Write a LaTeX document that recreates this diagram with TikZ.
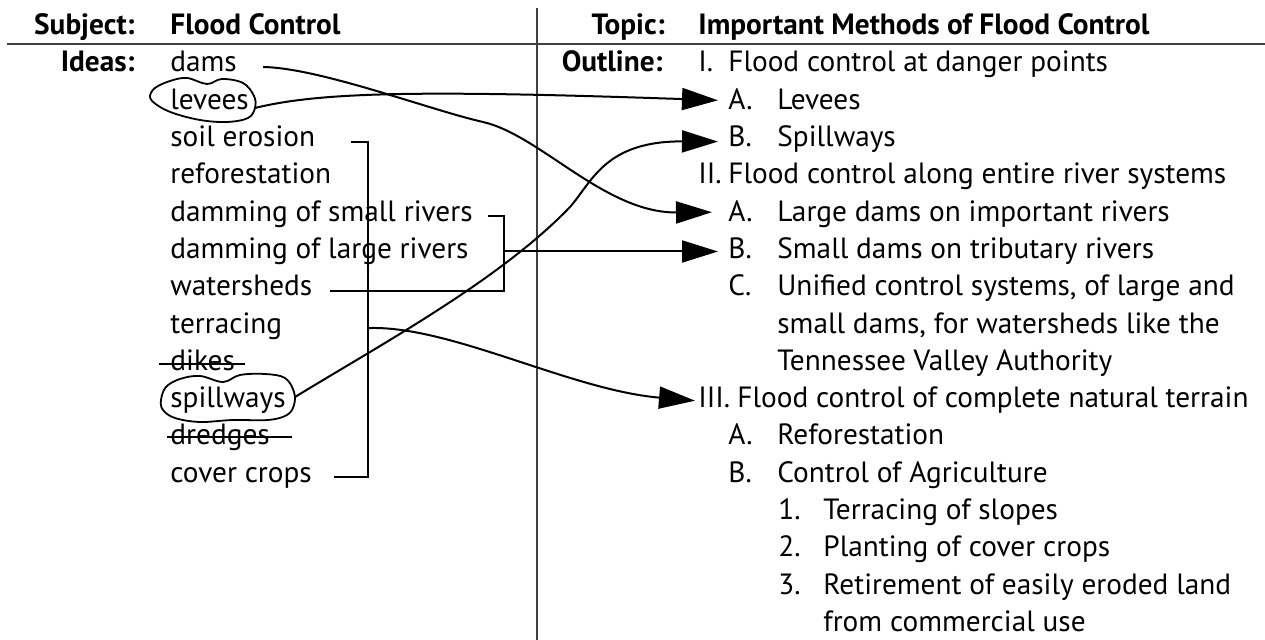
\documentclass[tikz,border=0pt]{standalone}
\usepackage{fontspec}
\setmainfont{PT Sans}[Scale=1.465]
\usetikzlibrary{arrows.meta}

\tikzset{
	idea/.style={anchor=base west, inner sep=0pt, text height=7pt, text depth=2pt},
	point/.style={anchor=base west, inner sep=0pt, text height=9pt, text depth=2pt},
	head/.style={anchor=base east, inner sep=0pt, font=\bfseries},
	link/.style={line width=1pt},
	goto/.style={link, -{Triangle[length=18pt,width=11pt]}},
	ring/.style={line width=0.9pt},
	rule/.style={line width=0.7pt, black!75},
}

\begin{document}
\begin{tikzpicture}[x=0.5pt,y=-0.5pt]
	\useasboundingbox (0,0) rectangle (1265,640);
	\newcommand{\rowh}{37.3}

	% headings
	\node[head] (subj) at (135,35) {Subject:};
	\node[idea,font=\bfseries] (subjtxt) at (170,35) {Flood Control};
	\node[head] (ideas) at (135,72) {Ideas:};
	\node[head] (topic) at (665,35) {Topic:};
	\node[idea,font=\bfseries] (topictxt) at (698,35) {Important Methods of Flood Control};
	\node[head] (outline) at (663,72) {Outline:};

	\draw[rule] (7,44) -- (1265,44);
	\draw[rule, line width=0.6pt] (537,8) -- (537,640);

	% ideas
	\foreach \name/\txt [count=\i from 0] in {dams/dams, levees/levees,
		soil/soil erosion, refor/reforestation, smallr/damming of small rivers,
		larger/damming of large rivers, wshed/watersheds, terr/terracing,
		dikes/dikes, spill/spillways, dredges/dredges, cover/cover crops}
	\node[idea] (\name) at (170,{72+\i*\rowh}) {\txt};

	% outline
	\foreach \name/\x/\txt [count=\i from 0] in {
		one/698/{\makebox[15pt][l]{I.}Flood control at danger points},
		aLev/728/{\makebox[24.5pt][l]{A.}Levees},
		bSpill/728/{\makebox[24.5pt][l]{B.}Spillways},
		two/698/{\makebox[15pt][l]{II.}Flood control along entire river systems},
		aLarge/728/{\makebox[24.5pt][l]{A.}Large dams on important rivers},
		bSmall/728/{\makebox[24.5pt][l]{B.}Small dams on tributary rivers},
		cUni/728/{\makebox[24.5pt][l]{C.}Unified control systems, of large and},
		cUniB/777/{small dams, for watersheds like the},
		cUniC/777/{Tennessee Valley Authority},
		three/698/{\makebox[19.5pt][l]{III.}Flood control of complete natural terrain},
		aRefor/728/{\makebox[24.5pt][l]{A.}Reforestation},
		bAgri/728/{\makebox[24.5pt][l]{B.}Control of Agriculture},
		oneT/778/{\makebox[22.5pt][l]{1.}Terracing of slopes},
		twoP/778/{\makebox[22.5pt][l]{2.}Planting of cover crops},
		threeR/778/{\makebox[22.5pt][l]{3.}Retirement of easily eroded land},
		threeRB/823/{from commercial use}}
	\node[point] (\name) at (\x,{72+\i*\rowh}) {\txt};

	% crossed out
	\draw[link] ([xshift=-5.5pt,yshift=0.5pt]dikes.west) -- ([xshift=5pt,yshift=0.5pt]dikes.east);
	\draw[link] ([xshift=-1.5pt,yshift=1.5pt]dredges.west) -- ([xshift=11pt,yshift=1.5pt]dredges.east);

	% circled
	\draw[ring] plot[smooth cycle, tension=0.6] coordinates {(150,97) (155,88) (170,81)
		(187,78) (207,84) (222,79) (243,83) (254,96) (255,108) (248,118) (227,122)
		(200,120) (173,113) (157,105)};
	\draw[ring] plot[smooth cycle, tension=0.6] coordinates {(161,400) (166,387) (180,379)
		(200,376) (223,382) (240,375) (265,374) (285,378) (294,392) (294,405) (287,415)
		(268,420) (233,420) (200,422) (175,418) (163,410)};
	\coordinate (levring) at (255,108);
	\coordinate (spillring) at (295,397);

	% brackets
	\coordinate (brace1) at (368,0);
	\coordinate (brace2) at (504,0);
	\draw[link] ([xshift=17.5pt]soil.east) -| (brace1 |- cover.east) -- ([xshift=11pt]cover.east);
	\draw[link] ([xshift=7.5pt]smallr.east) -| (brace2 |- wshed.east) -- ([xshift=8.5pt]wshed.east);

	% arrows
	\draw[goto] ([xshift=13pt]dams.east) .. controls (320,68) and (430,110) .. (483,122)
		.. controls (540,135) and (605,213) .. ([xshift=-8pt,yshift=1pt]aLarge.west);
	\draw[goto] (levring) .. controls (320,92) and (420,90) .. ([xshift=-5pt,yshift=1pt]aLev.west);
	\draw[goto] (spillring) .. controls (380,345) and (500,280) .. (570,207)
		.. controls (592,182) and (605,141) .. ([xshift=-5pt,yshift=-1pt]bSpill.west);
	\draw[goto] (brace2 |- bSmall.west) -- ([xshift=-5pt]bSmall.west);
	\draw[goto] (brace1 |- terr.east) .. controls (450,325) and (570,390) .. ([xshift=-1.5pt]three.west);
\end{tikzpicture}
\end{document}
